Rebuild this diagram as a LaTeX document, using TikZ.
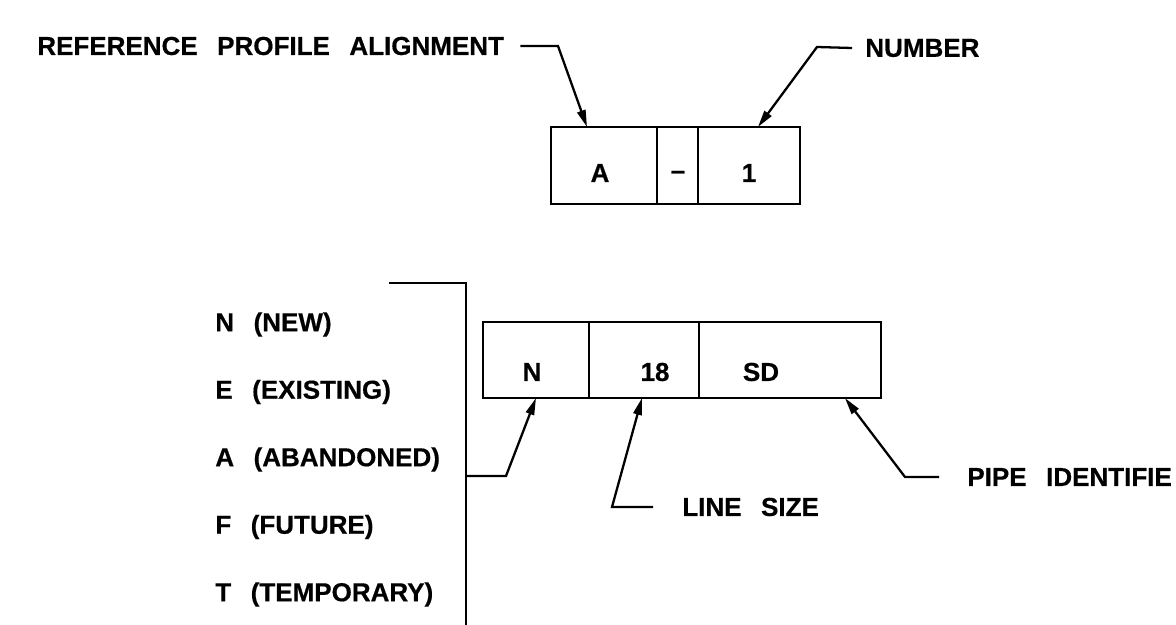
\documentclass[tikz,border=0pt]{standalone}
\usepackage{fontspec}
\setmainfont{Liberation Sans}
\newfontfamily\cadfont[FakeBold=0.5]{Liberation Sans}
\usetikzlibrary{arrows.meta, positioning, calc}
\tikzset{
    cell/.style={rectangle, draw, line width=1.5pt, inner sep=0pt, outer sep=0pt, minimum height=1.54cm},
    celltext/.style={font=\fontsize{14.8}{17}\cadfont\bfseries, inner sep=0pt},
    lbl/.style={font=\fontsize{14.8}{17}\cadfont\bfseries, inner sep=0pt, anchor=west},
    leader/.style={line width=1.3pt, -{Triangle[length=3.4mm,width=1.7mm]}}
}
\newcommand{\wsp}{\hspace{0.75em}}

\begin{document}
\begin{tikzpicture}[x=0.02cm, y=-0.02cm]
    \useasboundingbox (0,0) rectangle (1176,625);
    \clip (0,0) rectangle (1176,625);
    \fill [white] (0,0) rectangle (1176,625);

    % profile reference
    \node (cA) [cell, minimum width=2.12cm] at (604,165.5) {};
    \node (cDash) [cell, minimum width=0.82cm, right=0pt of cA] {};
    \node (cOne) [cell, minimum width=2.04cm, right=0pt of cDash] {};
    \node (tA) [celltext] at (600,173) {A};
    \node (tDash) [celltext] at (678,175) {\textendash};
    \node (tOne) [celltext] at (749,173) {1};

    \node (ref) [lbl] at (37,46) {REFERENCE\wsp PROFILE\wsp ALIGNMENT};
    \node (num) [lbl] at (865,48) {NUMBER};
    \draw [leader] ([xshift=0.32cm]ref.east) -- (558,46) -- ([xshift=-0.34cm]cA.north);
    \draw [leader] ([xshift=-0.26cm]num.west) -- (817,47) -- ([xshift=0.18cm]cOne.north);

    % pipe label
    \node (cN) [cell, minimum width=2.12cm, minimum height=1.52cm] at (536,360) {};
    \node (c18) [cell, minimum width=2.2cm, minimum height=1.52cm, right=0pt of cN] {};
    \node (cSD) [cell, minimum width=3.64cm, minimum height=1.52cm, right=0pt of c18] {};
    \node (tN) [celltext] at (532,372) {N};
    \node (t18) [celltext] at (655,372) {18};
    \node (tSD) [celltext] at (761,372) {SD};

    \foreach \code/\desc [count=\i from 0] in {N/NEW, E/EXISTING, A/ABANDONED, F/FUTURE, T/TEMPORARY}
        \node (st\code) [lbl] at (215,324.5+67.5*\i) {\code\wsp(\desc)};

    \coordinate (brTop) at (389,283);
    \coordinate (brMid) at (466,476);
    \coordinate (brBot) at (466,630);
    \draw [line width=1.3pt] (brTop) -- (466,283) -- (brBot);
    \draw [leader] (brMid) -- (506,476) -- (cN.south);

    \node (size) [lbl] at (682,507) {LINE\wsp SIZE};
    \draw [leader] ([xshift=-0.58cm]size.west) -- (612,507) -- ([xshift=-0.04cm]c18.south);

    \node (pipe) [lbl] at (967,477) {PIPE\wsp IDENTIFIE};
    \draw [leader] ([xshift=-0.56cm]pipe.west) -- (905,477) -- ([xshift=1.1cm]cSD.south);
\end{tikzpicture}
\end{document}
